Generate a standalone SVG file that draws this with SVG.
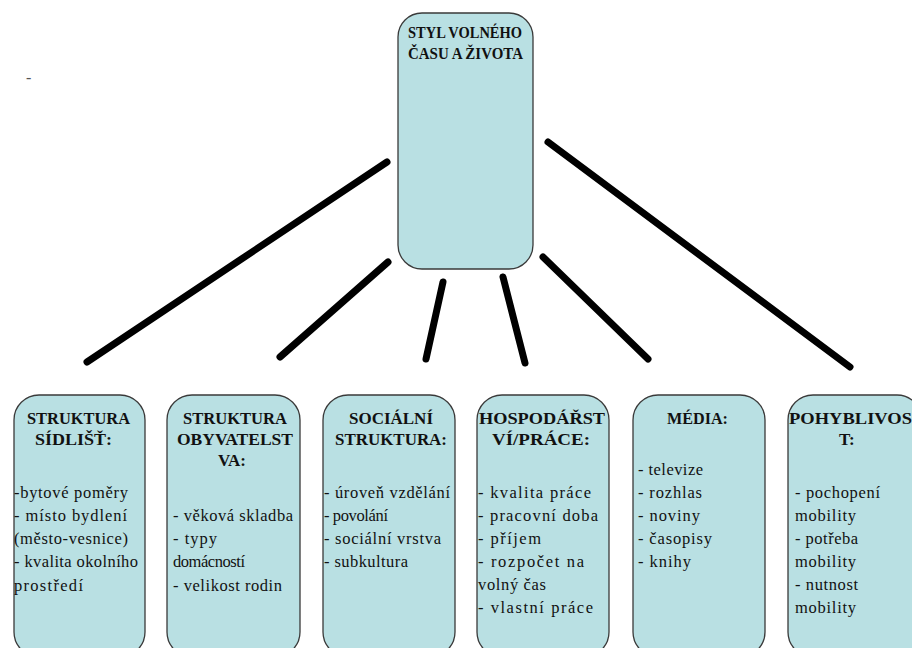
<svg xmlns="http://www.w3.org/2000/svg" width="912" height="648" viewBox="0 0 912 648">
<style>
.box{fill:#b9e0e3;stroke:#3a3a3a;stroke-width:1.3}
.hd{font-family:"Liberation Serif","Times New Roman",serif;font-weight:bold;font-size:17px;fill:#111}
.tx{font-family:"Liberation Serif","Times New Roman",serif;font-size:16.5px;fill:#111}
.ln{stroke:#000;stroke-width:7;stroke-linecap:round;fill:none}
</style>
<rect width="912" height="648" fill="#fff"/>
<text x="26" y="83" style="font-family:'Liberation Serif',serif;font-size:16px;fill:#555">-</text>
<g id="connectors">
<line class="ln" x1="87" y1="362" x2="387" y2="162"/>
<line class="ln" x1="280" y1="357" x2="388" y2="262"/>
<line class="ln" x1="443" y1="282" x2="426" y2="359"/>
<line class="ln" x1="503" y1="277" x2="525" y2="363"/>
<line class="ln" x1="543" y1="257" x2="648" y2="359"/>
<line class="ln" x1="548" y1="142" x2="850" y2="367"/>
</g>
<g id="root">
<rect class="box" x="398" y="13" width="135" height="256" rx="24"/>
<text class="hd" x="408" y="38" textLength="114" lengthAdjust="spacingAndGlyphs">STYL VOLNÉHO</text>
<text class="hd" x="408" y="59" textLength="115" lengthAdjust="spacingAndGlyphs">ČASU A ŽIVOTA</text>
</g>
<g id="n1">
<rect class="box" x="14" y="395" width="131" height="262" rx="25"/>
<text class="hd" x="27" y="424" textLength="103" lengthAdjust="spacingAndGlyphs">STRUKTURA</text>
<text class="hd" x="35" y="445" textLength="77" lengthAdjust="spacingAndGlyphs">SÍDLIŠŤ:</text>
<text class="tx" x="14" y="498" textLength="114" lengthAdjust="spacing">-bytové poměry</text>
<text class="tx" x="14" y="521" textLength="113" lengthAdjust="spacing">- místo bydlení</text>
<text class="tx" x="14" y="544" textLength="114" lengthAdjust="spacing">(město-vesnice)</text>
<text class="tx" x="14" y="567" textLength="124" lengthAdjust="spacing">- kvalita okolního</text>
<text class="tx" x="14" y="591" textLength="69" lengthAdjust="spacing">prostředí</text>
</g>
<g id="n2">
<rect class="box" x="167" y="395" width="133" height="262" rx="25"/>
<text class="hd" x="183" y="424" textLength="104" lengthAdjust="spacingAndGlyphs">STRUKTURA</text>
<text class="hd" x="177" y="445" textLength="116" lengthAdjust="spacingAndGlyphs">OBYVATELST</text>
<text class="hd" x="218" y="466">VA:</text>
<text class="tx" x="173" y="521" textLength="120" lengthAdjust="spacing">- věková skladba</text>
<text class="tx" x="173" y="544" textLength="44" lengthAdjust="spacing">- typy</text>
<text class="tx" x="173" y="567" textLength="72" lengthAdjust="spacing">domácností</text>
<text class="tx" x="173" y="591" textLength="109" lengthAdjust="spacing">- velikost rodin</text>
</g>
<g id="n3">
<rect class="box" x="323" y="395" width="132" height="262" rx="25"/>
<text class="hd" x="349" y="424" textLength="84" lengthAdjust="spacingAndGlyphs">SOCIÁLNÍ</text>
<text class="hd" x="335" y="445" textLength="112" lengthAdjust="spacingAndGlyphs">STRUKTURA:</text>
<text class="tx" x="324" y="498" textLength="126" lengthAdjust="spacing">- úroveň vzdělání</text>
<text class="tx" x="324" y="521" textLength="64" lengthAdjust="spacing">- povolání</text>
<text class="tx" x="324" y="544" textLength="117" lengthAdjust="spacing">- sociální vrstva</text>
<text class="tx" x="324" y="567" textLength="84" lengthAdjust="spacing">- subkultura</text>
</g>
<g id="n4">
<rect class="box" x="477" y="395" width="132" height="262" rx="25"/>
<text class="hd" x="479" y="424" textLength="126" lengthAdjust="spacingAndGlyphs">HOSPODÁŘST</text>
<text class="hd" x="492" y="445" textLength="98" lengthAdjust="spacingAndGlyphs">VÍ/PRÁCE:</text>
<text class="tx" x="478" y="498" textLength="113" lengthAdjust="spacing">- kvalita práce</text>
<text class="tx" x="478" y="521" textLength="120" lengthAdjust="spacing">- pracovní doba</text>
<text class="tx" x="478" y="544" textLength="63" lengthAdjust="spacing">- příjem</text>
<text class="tx" x="478" y="567" textLength="106" lengthAdjust="spacing">- rozpočet na</text>
<text class="tx" x="478" y="590" textLength="68" lengthAdjust="spacing">volný čas</text>
<text class="tx" x="478" y="613" textLength="115" lengthAdjust="spacing">- vlastní práce</text>
</g>
<g id="n5">
<rect class="box" x="633" y="395" width="132" height="262" rx="25"/>
<text class="hd" x="667" y="424" textLength="61" lengthAdjust="spacingAndGlyphs">MÉDIA:</text>
<text class="tx" x="638" y="475" textLength="65" lengthAdjust="spacing">- televize</text>
<text class="tx" x="638" y="498" textLength="64" lengthAdjust="spacing">- rozhlas</text>
<text class="tx" x="638" y="521" textLength="62" lengthAdjust="spacing">- noviny</text>
<text class="tx" x="638" y="544" textLength="74" lengthAdjust="spacing">- časopisy</text>
<text class="tx" x="638" y="567" textLength="53" lengthAdjust="spacing">- knihy</text>
</g>
<g id="n6">
<rect class="box" x="788" y="395" width="134" height="262" rx="25"/>
<text class="hd" x="789" y="424" textLength="123" lengthAdjust="spacingAndGlyphs">POHYBLIVOS</text>
<text class="hd" x="839" y="445">T:</text>
<text class="tx" x="795" y="498" textLength="85" lengthAdjust="spacing">- pochopení</text>
<text class="tx" x="795" y="521" textLength="61" lengthAdjust="spacing">mobility</text>
<text class="tx" x="795" y="544" textLength="63" lengthAdjust="spacing">- potřeba</text>
<text class="tx" x="795" y="567" textLength="61" lengthAdjust="spacing">mobility</text>
<text class="tx" x="795" y="590" textLength="63" lengthAdjust="spacing">- nutnost</text>
<text class="tx" x="795" y="613" textLength="61" lengthAdjust="spacing">mobility</text>
</g>
</svg>
